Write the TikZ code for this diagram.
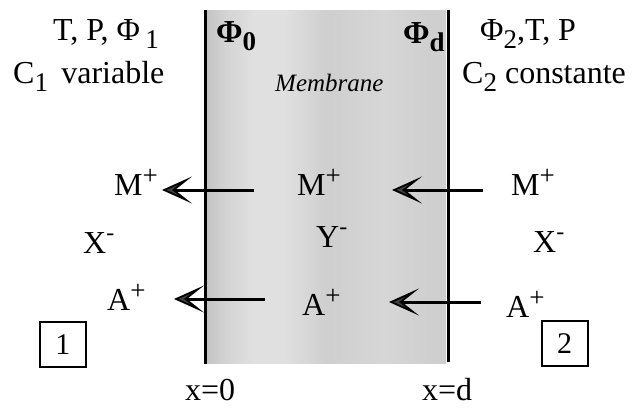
\documentclass[tikz,border=0pt]{standalone}
\usepackage{fontspec}
\setmainfont{Liberation Serif}
\usetikzlibrary{arrows.meta}
\newcommand\mysub[1]{\raisebox{-8pt}{\fontsize{27pt}{27pt}\selectfont #1}}
\newcommand\mysup[1]{\raisebox{11pt}{\fontsize{27pt}{27pt}\selectfont #1}}
\newcommand\mymin{\raisebox{13pt}{\fontsize{24pt}{24pt}\selectfont -}}
\definecolor{gA}{gray}{0.77}
\definecolor{gB}{gray}{0.88}
\definecolor{gC}{gray}{0.83}
\definecolor{gD}{gray}{0.81}
\definecolor{gE}{gray}{0.84}
\definecolor{tipfill}{gray}{0.25}
\pgfdeclarehorizontalshading{memb}{100bp}{color(0bp)=(gA); color(25bp)=(gA); color(29bp)=(gC); color(35bp)=(gB); color(41bp)=(gB); color(50bp)=(gD); color(62bp)=(gE); color(72bp)=(gD); color(75bp)=(gD); color(100bp)=(gD)}
\tikzset{
  lbl/.style={inner sep=0pt, anchor=base west, font=\fontsize{32pt}{34pt}\selectfont},
  wall/.style={line width=3pt},
  flux/.style={line width=3pt, -{Stealth[length=30pt,width=27pt,inset=17pt,line width=1.8pt,fill=tipfill]}},
  numbox/.style={draw, line width=2pt, minimum width=46pt, minimum height=45pt, inner sep=0pt, font=\fontsize{30pt}{32pt}\selectfont}
}
\begin{document}
\begin{tikzpicture}[x=1pt,y=-1pt]
\useasboundingbox (0,0) rectangle (633,408);
% membrane
\shade[shading=memb] (207,10) rectangle (446,363);
\coordinate (w0t) at (205,10);
\coordinate (w0b) at (205,364);
\coordinate (wdt) at (448,10);
\coordinate (wdb) at (448,362);
\draw[wall] (w0t) -- (w0b);
\draw[wall] (wdt) -- (wdb);
% header texts
\node[lbl] (tp1) at (53,40) {T, P, Φ\,\mysub{1}};
\node[lbl] (c1) at (13,83) {C\mysub{1}\, variable};
\node[lbl, font=\fontsize{32pt}{34pt}\selectfont\bfseries] (phi0) at (216,42) {Φ\mysub{0}};
\node[lbl, font=\fontsize{32pt}{34pt}\selectfont\bfseries] (phid) at (403,43) {Φ\mysub{d}};
\node[lbl] (phi2) at (480,40) {Φ\mysub{2},T, P};
\node[lbl] (c2) at (462,83) {C\mysub{2} constante};
\node[lbl, font=\fontsize{25pt}{27pt}\selectfont\itshape] (memb) at (275,91) {Membrane};
% ions
\node[lbl] (m1) at (114,195) {M\mysup{+}};
\node[lbl] (mm) at (297,195) {M\mysup{+}};
\node[lbl] (m2) at (511,195) {M\mysup{+}};
\node[lbl] (x1) at (83,253) {X\mymin};
\node[lbl] (ym) at (316,247) {Y\mymin};
\node[lbl] (x2) at (533,252) {X\mymin};
\node[lbl] (a1) at (107,310) {A\mysup{+}};
\node[lbl] (am) at (302,315) {A\mysup{+}};
\node[lbl] (a2) at (506,317) {A\mysup{+}};
% arrows
\coordinate (f1s) at (254,190); \coordinate (f1e) at (162,190);
\coordinate (f2s) at (483,190); \coordinate (f2e) at (392,190);
\coordinate (f3s) at (265,299); \coordinate (f3e) at (174,299);
\coordinate (f4s) at (481,302); \coordinate (f4e) at (389,302);
\draw[flux] (f1s) -- (f1e);
\draw[flux] (f2s) -- (f2e);
\draw[flux] (f3s) -- (f3e);
\draw[flux] (f4s) -- (f4e);
% boxes
\node[numbox] (b1) at (63,344.5) {1};
\node[numbox] (b2) at (564.5,343.5) {2};
% positions
\node[lbl] (x0) at (185,400) {x=0};
\node[lbl] (xd) at (422,400) {x=d};
\end{tikzpicture}
\end{document}
